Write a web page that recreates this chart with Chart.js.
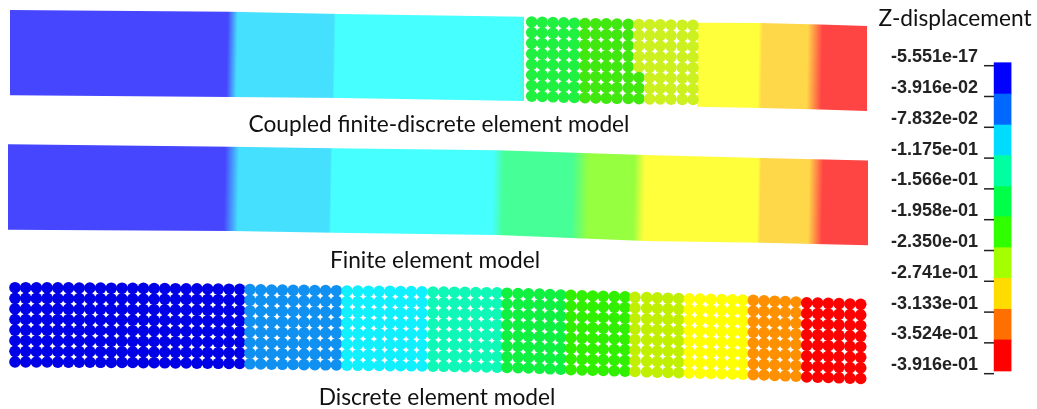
<!DOCTYPE html>
<html>
<head>
<meta charset="utf-8">
<title>Z-displacement</title>
<script src="https://cdn.jsdelivr.net/npm/chart.js@4"></script>
<style>
  html, body { margin: 0; padding: 0; background: #fff; }
  canvas { display: block; filter: blur(0.5px); }
</style>
</head>
<body>
<canvas id="myChart" width="1037" height="409"></canvas>
<script>
// Outline of the coupled model, left and right solid parts (picture units)
const coupledLeftTopX = [10, 230, 340, 526];
const coupledLeftTopY = [10, 11.7, 14, 16.7];
const coupledLeftBottomX = [10, 230, 340, 524];
const coupledLeftBottomY = [95.3, 97, 98, 101];
const coupledRightTopX = [697, 760, 820, 870];
const coupledRightTopY = [22.7, 23, 24.5, 26];
const coupledRightBottomX = [697, 760, 820, 867];
const coupledRightBottomY = [106.7, 108, 109.5, 111];

// Outline of the finite element model
const finiteTopX = [8, 231, 333, 497, 645, 762, 873];
const finiteTopY = [144.3, 146.7, 148.3, 150.3, 155, 158, 160.7];
const finiteBottomX = [8, 231, 333, 497, 645, 762, 868];
const finiteBottomY = [229.7, 231, 232.7, 235, 241, 242.7, 245.3];

// Colour stops along each solid part
const coupledLeftStopX = [228, 238, 334, 336, 520, 527];
const coupledLeftStopColor = ['#4646ff', '#46e0ff', '#46e0ff', '#46ffff', '#46ffff', '#50ffc0'];
const coupledRightStopX = [697, 759, 763, 808, 823, 868];
const coupledRightStopColor = ['#ffff3c', '#ffff3c', '#ffd84a', '#ffd84a', '#ff4444', '#ff4444'];
const finiteStopX = [228, 242, 333, 335, 496, 507, 575, 592, 637, 648, 761, 764, 812, 826];
const finiteStopColor = ['#4646ff', '#46e0ff', '#46e0ff', '#46ffff', '#46ffff', '#46ff96', '#46ff96',
  '#96ff40', '#96ff40', '#ffff3c', '#ffff3c', '#ffd84a', '#ffd84a', '#ff4444'];

// Balls of the coupled model: one entry per column
const coupledBallX = [531.7, 542.3, 553, 563.7, 574.3, 585, 595.7, 606.3, 617, 628.3, 639, 649.7, 660.3, 671, 682.3, 693];
const coupledBallTop = [22, 22.3, 22.6, 22.9, 23.2, 23.5, 23.7, 23.9, 24.1, 24.3, 24.5, 24.7, 24.8, 25, 25.2, 25.3];
const coupledBallColor = ['#20f040', '#20f040', '#20f040', '#20f040', '#20f040', '#40e810', '#40e810', '#40e810',
  '#40e810', '#40e810', '#ccf020', '#ccf020', '#ccf020', '#ccf020', '#ccf020', '#ccf020'];
// Bottom rows of column 10 are still in the green band
const coupledGreenRows = [5, 6, 7];

// Balls of the discrete model: one entry per column
const discreteBallX = [15, 25.7, 36.4, 47.1, 57.8, 68.5, 79.2, 89.9, 100.6, 111.3, 122, 132.7, 143.4, 154.1, 164.8,
  175.5, 186.2, 196.9, 207.6, 218.3, 229, 239.7,
  250, 260.8, 271.6, 282.4, 293.2, 304, 314.8, 325.6, 336.4,
  347, 357.8, 368.5, 379.2, 390, 400.6, 411.3, 422,
  433, 443.7, 454.4, 465, 475.8, 486.5, 497,
  507, 518, 528.5, 539.5, 550, 560.7,
  571, 582, 592.7, 603.3, 614.3, 625,
  635, 646.7, 657.3, 668, 678.7,
  689.3, 700, 711, 721.7, 732.3, 742.7,
  753.3, 764, 774.7, 785.3, 796,
  806.7, 817.7, 828.3, 839, 850, 860.7];
const discreteBallTop = [287.7, 287.7, 287.8, 287.8, 287.9, 287.9, 288, 288, 288.1, 288.2, 288.2, 288.3, 288.4, 288.5,
  288.6, 288.7, 288.8, 288.9, 289, 289.1, 289.2, 289.3,
  289.6, 289.8, 290, 290.1, 290.3, 290.4, 290.5, 290.6, 290.7,
  291, 291.1, 291.2, 291.3, 291.4, 291.5, 291.6, 291.8,
  292, 292.1, 292.2, 292.4, 292.5, 292.7, 292.9,
  293.2, 293.5, 293.8, 294.1, 294.6, 295,
  295.4, 295.8, 296, 296.3, 296.6, 296.9,
  297.3, 297.6, 297.9, 298.2, 298.5,
  298.8, 299, 299.3, 299.5, 299.8, 300,
  300.4, 300.8, 301.2, 301.6, 302,
  302.8, 303, 303.3, 303.6, 304, 304.3];
const discreteBandSize = [22, 9, 8, 7, 6, 6, 5, 6, 5, 6];
const discreteBandColor = ['#0000e6', '#1090f0', '#10f0ff', '#10f8b8', '#10f040', '#30f000', '#c0f000', '#ffff00', '#ff9000', '#ff0000'];

// Rows shared by both ball blocks, measured down from the column top
const ballRowOffset = [0, 10.6, 21.2, 31.8, 42.4, 53, 63.6, 74.2];

// Colour bar
const legendValues = [-5.551e-17, -3.916e-2, -7.832e-2, -1.175e-1, -1.566e-1, -1.958e-1, -2.350e-1, -2.741e-1, -3.133e-1, -3.524e-1, -3.916e-1];
const legendLabels = ['-5.551e-17', '-3.916e-02', '-7.832e-02', '-1.175e-01', '-1.566e-01', '-1.958e-01', '-2.350e-01', '-2.741e-01', '-3.133e-01', '-3.524e-01', '-3.916e-01'];
const legendEdges = [0.0038, -0.0360, -0.0754, -0.1144, -0.1538, -0.1920, -0.2314, -0.2703, -0.3097, -0.3487, -0.3882];
const legendColors = ['#0000ff', '#0068ff', '#00dcff', '#00ffa0', '#00ff48', '#30ff00', '#a4ff00', '#ffdc00', '#ff7000', '#ff0000'];

// Captions
const captionTexts = ['Coupled finite-discrete element model', 'Finite element model', 'Discrete element model', 'Z-displacement'];
const captionX = [439, 435, 437, 955];
const captionY = [125, 261, 398, 19];

function beamGradient(chart, stopX, stopColor) {
    // Bands stand square to the slightly tilted beam
    const sx = chart.scales.x;
    const left = sx.getPixelForValue(0);
    const right = sx.getPixelForValue(1037);
    if (!isFinite(left) || !isFinite(right)) return 'transparent'; // scale not laid out yet
    const g = chart.ctx.createLinearGradient(left, 0, right, 19.4);
    stopX.forEach((x, i) => g.addColorStop(x / 1037, stopColor[i]));
    return g;
}

function edge(xs, ys) {
    return xs.map((x, i) => ({ x: x, y: ys[i] }));
}

function solid(topX, topY, bottomX, bottomY, stopX, stopColor) {
    return [
        {
            data: edge(topX, topY), showLine: true, pointRadius: 0, borderWidth: 0, fill: '+1',
            backgroundColor: ctx => beamGradient(ctx.chart, stopX, stopColor), order: 3
        },
        { data: edge(bottomX, bottomY), showLine: true, pointRadius: 0, borderWidth: 0, order: 3 }
    ];
}

function balls(xs, tops, colorAt) {
    const data = [];
    const colors = [];
    xs.forEach((x, col) => {
        ballRowOffset.forEach((off, row) => {
            data.push({ x: x, y: tops[col] + off });
            colors.push(colorAt(col, row));
        });
    });
    return { data: data, pointRadius: 5.8, pointBorderWidth: 0, pointBackgroundColor: colors, order: 1 };
}

const discreteColumnColor = [];
discreteBandSize.forEach((n, band) => {
    for (let i = 0; i < n; i++) discreteColumnColor.push(discreteBandColor[band]);
});

// The legend axis stays hidden (a shown one would shrink the plot), so its ticks and texts are drawn here
const textPlugin = {
    id: 'texts',
    afterDraw(chart) {
        const { ctx, scales } = chart;
        ctx.save();
        ctx.fillStyle = '#111';
        ctx.font = '22.7px Lato';
        ctx.textAlign = 'center';
        ctx.textBaseline = 'middle';
        captionTexts.forEach((t, i) => {
            ctx.fillText(t, scales.x.getPixelForValue(captionX[i]), scales.y.getPixelForValue(captionY[i]));
        });

        ctx.fillStyle = '#222';
        ctx.strokeStyle = '#222';
        ctx.lineWidth = 1.5;
        ctx.font = 'bold 18px "Liberation Sans"';
        ctx.textAlign = 'right';
        legendValues.forEach((v, i) => {
            const py = scales.yLegend.getPixelForValue(v);
            ctx.beginPath();
            ctx.moveTo(scales.x.getPixelForValue(984), py);
            ctx.lineTo(scales.x.getPixelForValue(994), py);
            ctx.stroke();
            ctx.fillText(legendLabels[i], scales.x.getPixelForValue(978), py - 8.5);
        });
        ctx.restore();
    }
};

const ctx = document.getElementById('myChart').getContext('2d');
const myChart = new Chart(ctx, {
    type: 'scatter',
    data: {
        datasets: [
            ...solid(coupledLeftTopX, coupledLeftTopY, coupledLeftBottomX, coupledLeftBottomY, coupledLeftStopX, coupledLeftStopColor),
            ...solid(coupledRightTopX, coupledRightTopY, coupledRightBottomX, coupledRightBottomY, coupledRightStopX, coupledRightStopColor),
            ...solid(finiteTopX, finiteTopY, finiteBottomX, finiteBottomY, finiteStopX, finiteStopColor),
            balls(coupledBallX, coupledBallTop, (col, row) =>
                col === 10 && coupledGreenRows.includes(row) ? coupledBallColor[9] : coupledBallColor[col]),
            balls(discreteBallX, discreteBallTop, col => discreteColumnColor[col]),
            {
                type: 'bar',
                yAxisID: 'yLegend',
                data: legendColors.map((_, i) => ({ x: 1002.6, y: [legendEdges[i], legendEdges[i + 1]] })),
                backgroundColor: legendColors,
                barThickness: 17,
                order: 2
            }
        ]
    },
    options: {
        responsive: false,
        animation: false,
        layout: { padding: 0, autoPadding: false },
        plugins: { legend: { display: false }, tooltip: { enabled: false } },
        scales: {
            x: { type: 'linear', min: 0, max: 1037, offset: false, display: false },
            y: { type: 'linear', min: 0, max: 409, reverse: true, display: false },
            yLegend: { type: 'linear', display: false, min: -0.43650, max: 0.08353 }
        }
    },
    plugins: [textPlugin]
});
</script>
</body>
</html>
